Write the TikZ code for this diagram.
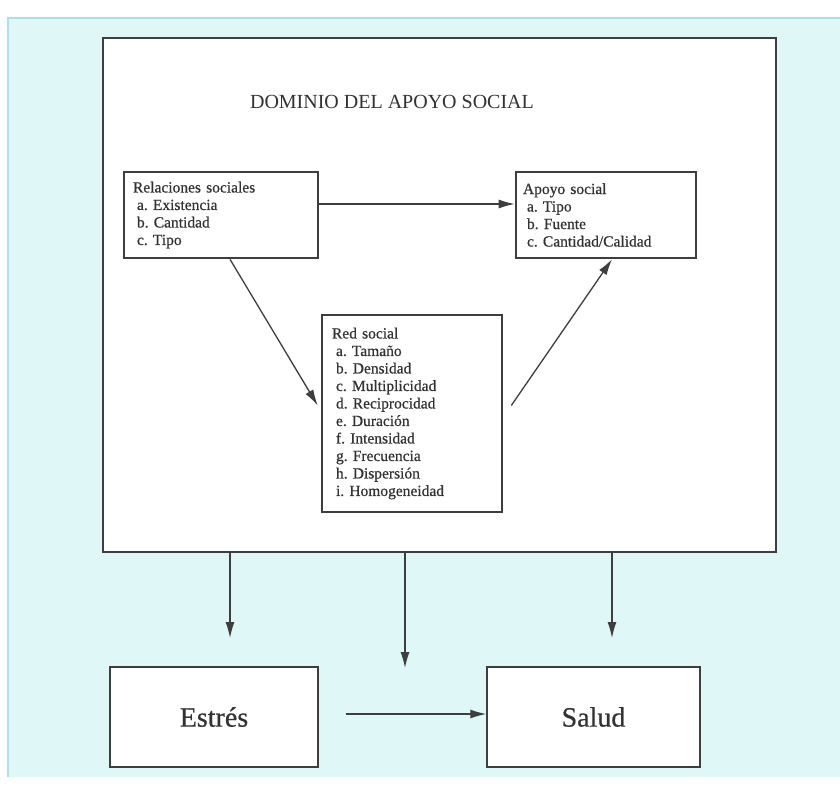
\documentclass[tikz,border=0pt]{standalone}
\usepackage{fontspec}
\setmainfont{Liberation Serif}
\newfontfamily\heavyserif{Liberation Serif}[FakeBold=0.6]
\usetikzlibrary{arrows.meta}
\definecolor{panelcyan}{RGB}{223,247,247}
\definecolor{paneledge}{RGB}{168,226,232}
\definecolor{inkgray}{RGB}{62,62,62}
\definecolor{textgray}{RGB}{50,50,50}
\tikzset{every picture/.style={line width=1.2pt}}
\frenchspacing

\begin{document}
\begin{tikzpicture}[x=1pt,y=-1pt,
        every node/.style={text=textgray},
        box/.style={draw=inkgray, line width=2.6pt, fill=white, align=left, font=\heavyserif\fontsize{15.5}{17.5}\selectfont},
        bigbox/.style={draw=inkgray, line width=1.4pt, fill=white, minimum height=100pt, font=\heavyserif\fontsize{28}{30}\selectfont},
        flow/.style={draw=inkgray, line width=1.3pt, -{Latex[length=16pt,width=9pt]}}]
        \useasboundingbox (0,0) rectangle (840,784);
        \fill[white] (0,0) rectangle (840,784);
        \fill[panelcyan] (8,18) rectangle (840,777);
        \draw[paneledge, line width=2pt] (8,777) -- (8,18) -- (840,18);
        \node[draw=inkgray, line width=1.4pt, fill=white, minimum width=673pt, minimum height=514pt] (dom) at (439.5,295) {};
        \node[font=\fontsize{20}{22}\selectfont] (title) at (392,102) {DOMINIO DEL APOYO SOCIAL};
        \node[box, text width=176pt, inner xsep=9pt, minimum height=86pt] (rel) at (221,215)
            {Relaciones sociales\\\hspace*{4pt}a. Existencia\\\hspace*{4pt}b. Cantidad\\\hspace*{4pt}c. Tipo};
        \node[box, text width=166pt, inner xsep=7pt, minimum height=86pt] (apo) at (606,215)
            {Apoyo social\\\hspace*{4pt}a. Tipo\\\hspace*{4pt}b. Fuente\\\hspace*{4pt}c. Cantidad/Calidad};
        \node[box, text width=160pt, inner xsep=10pt, minimum height=197pt] (red) at (412,413.5)
            {Red social\\\hspace*{4pt}a. Tamaño\\\hspace*{4pt}b. Densidad\\\hspace*{4pt}c. Multiplicidad\\\hspace*{4pt}d. Reciprocidad\\\hspace*{4pt}e. Duración\\\hspace*{4pt}f. Intensidad\\\hspace*{4pt}g. Frecuencia\\\hspace*{4pt}h. Dispersión\\\hspace*{4pt}i. Homogeneidad};
        \node[bigbox, minimum width=208pt] (est) at (214,717) {Estrés};
        \node[bigbox, minimum width=213pt] (sal) at (593.5,717) {Salud};
        \coordinate (tipA) at (230,638);
        \coordinate (tipB) at (405,668);
        \coordinate (tipC) at (612,638);
        \path
            ([yshift=11pt]rel.east) edge[flow] ([yshift=11pt]apo.west)
            ([xshift=9pt]rel.south) edge[flow] ([xshift=-3pt,yshift=8pt]red.west)
            ([xshift=8pt,yshift=8pt]red.east) edge[flow] ([xshift=6pt]apo.south)
            (dom.south -| tipA) edge[flow] (tipA)
            (dom.south -| tipB) edge[flow] (tipB)
            (dom.south -| tipC) edge[flow] (tipC)
            ([xshift=27pt,yshift=3pt]est.east) edge[flow] ([yshift=3pt]sal.west)
            ;
    \end{tikzpicture}
\end{document}
